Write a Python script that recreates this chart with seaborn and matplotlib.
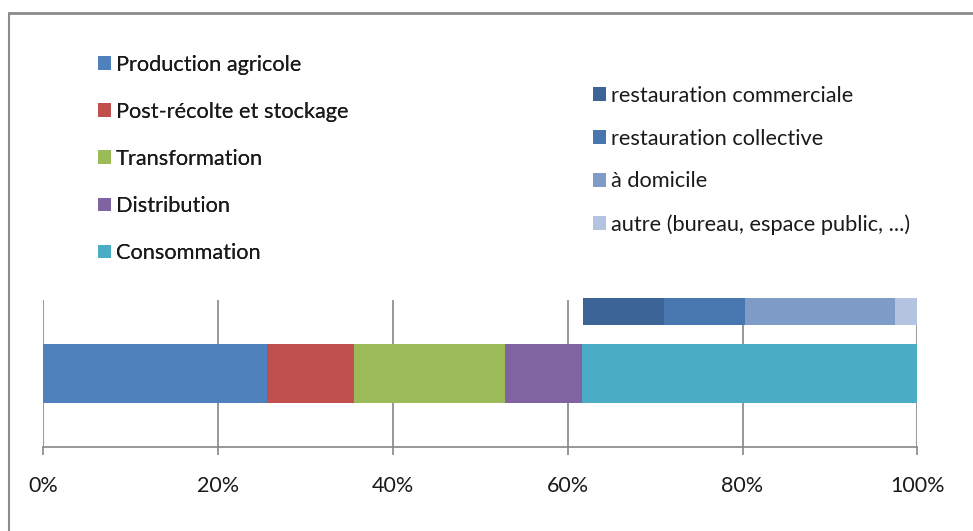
import numpy as np
import matplotlib.pyplot as plt
import seaborn as sns
from matplotlib.patches import Patch

# data (share of food waste, %)
stages = ['Production agricole', 'Post-récolte et stockage', 'Transformation',
          'Distribution', 'Consommation']
stage_share = [25.6, 9.9, 17.3, 8.8, 38.4]
stage_colors = ['#4f81bd', '#c0504d', '#9bbb59', '#8064a2', '#4bacc6']

conso_parts = ['restauration commerciale', 'restauration collective', 'à domicile',
               'autre (bureau, espace public, ...)']
conso_share = [9.2, 9.3, 17.2, 2.5]
conso_start = 61.8
conso_colors = ['#3c6496', '#4877b0', '#7f9bc8', '#b4c3df']

ticks = [0, 20, 40, 60, 80, 100]

sns.set_theme(style='white')
plt.rcParams['font.family'] = ['Lato', 'DejaVu Sans']

W, H = 973, 531
fig = plt.figure(figsize=(W / 100, H / 100), dpi=100)

# axes placed in pixel terms: x 43..917, y 300..447
ax = fig.add_axes([43.3 / W, 1 - 447.3 / H, (917.3 - 43.3) / W, (447.3 - 300) / H])
ax.set_xlim(0, 100)
ax.set_ylim(147.3, 0)

# main stacked bar
left = 0
for name, val, col in zip(stages, stage_share, stage_colors):
    ax.barh(73.5, val, left=left, height=59, color=col, edgecolor='none', zorder=3)
    left += val

# consommation breakdown bar
left = conso_start
for name, val, col in zip(conso_parts, conso_share, conso_colors):
    ax.barh(11.5, val, left=left, height=27, color=col, edgecolor='none',
            zorder=3, clip_on=False)
    left += val

grid_col = '#868686'
for t in ticks:
    ax.axvline(t, color=grid_col, lw=1.2, zorder=1)
for s in ['top', 'right', 'left']:
    ax.spines[s].set_visible(False)
ax.spines['bottom'].set_color(grid_col)
ax.spines['bottom'].set_linewidth(1.2)
ax.set_xticks(ticks)
ax.set_xticklabels([f'{t}%' for t in ticks], fontsize=15.5, color='#1a1a1a')
ax.tick_params(axis='x', direction='out', length=6, width=1.2, color=grid_col,
               pad=15, bottom=True)
ax.set_yticks([])

# legends
fs = 15.7
h1 = [Patch(facecolor=c, edgecolor='none') for c in stage_colors]
leg1 = fig.legend(h1, stages, loc='upper left', bbox_to_anchor=(98 / W, 1 - 55 / H),
                  frameon=False, fontsize=fs, handlelength=0.6, handleheight=0.6,
                  handletextpad=0.23, labelspacing=1.24, borderpad=0, borderaxespad=0,
                  labelcolor='#1a1a1a')
h2 = [Patch(facecolor=c, edgecolor='none') for c in conso_colors]
leg2 = fig.legend(h2, conso_parts, loc='upper left', bbox_to_anchor=(593 / W, 1 - 86 / H),
                  frameon=False, fontsize=fs, handlelength=0.6, handleheight=0.6,
                  handletextpad=0.23, labelspacing=1.04, borderpad=0, borderaxespad=0,
                  labelcolor='#1a1a1a')
fig.add_artist(leg1)

# outer chart frame (top and left edge)
fig.add_artist(plt.Line2D([8.5 / W, 1], [1 - 13 / H, 1 - 13 / H], color='#8c8c8c', lw=2))
fig.add_artist(plt.Line2D([8.5 / W, 8.5 / W], [0, 1 - 13 / H], color='#8c8c8c', lw=1.5))

fig.savefig('out.png', dpi=100)
